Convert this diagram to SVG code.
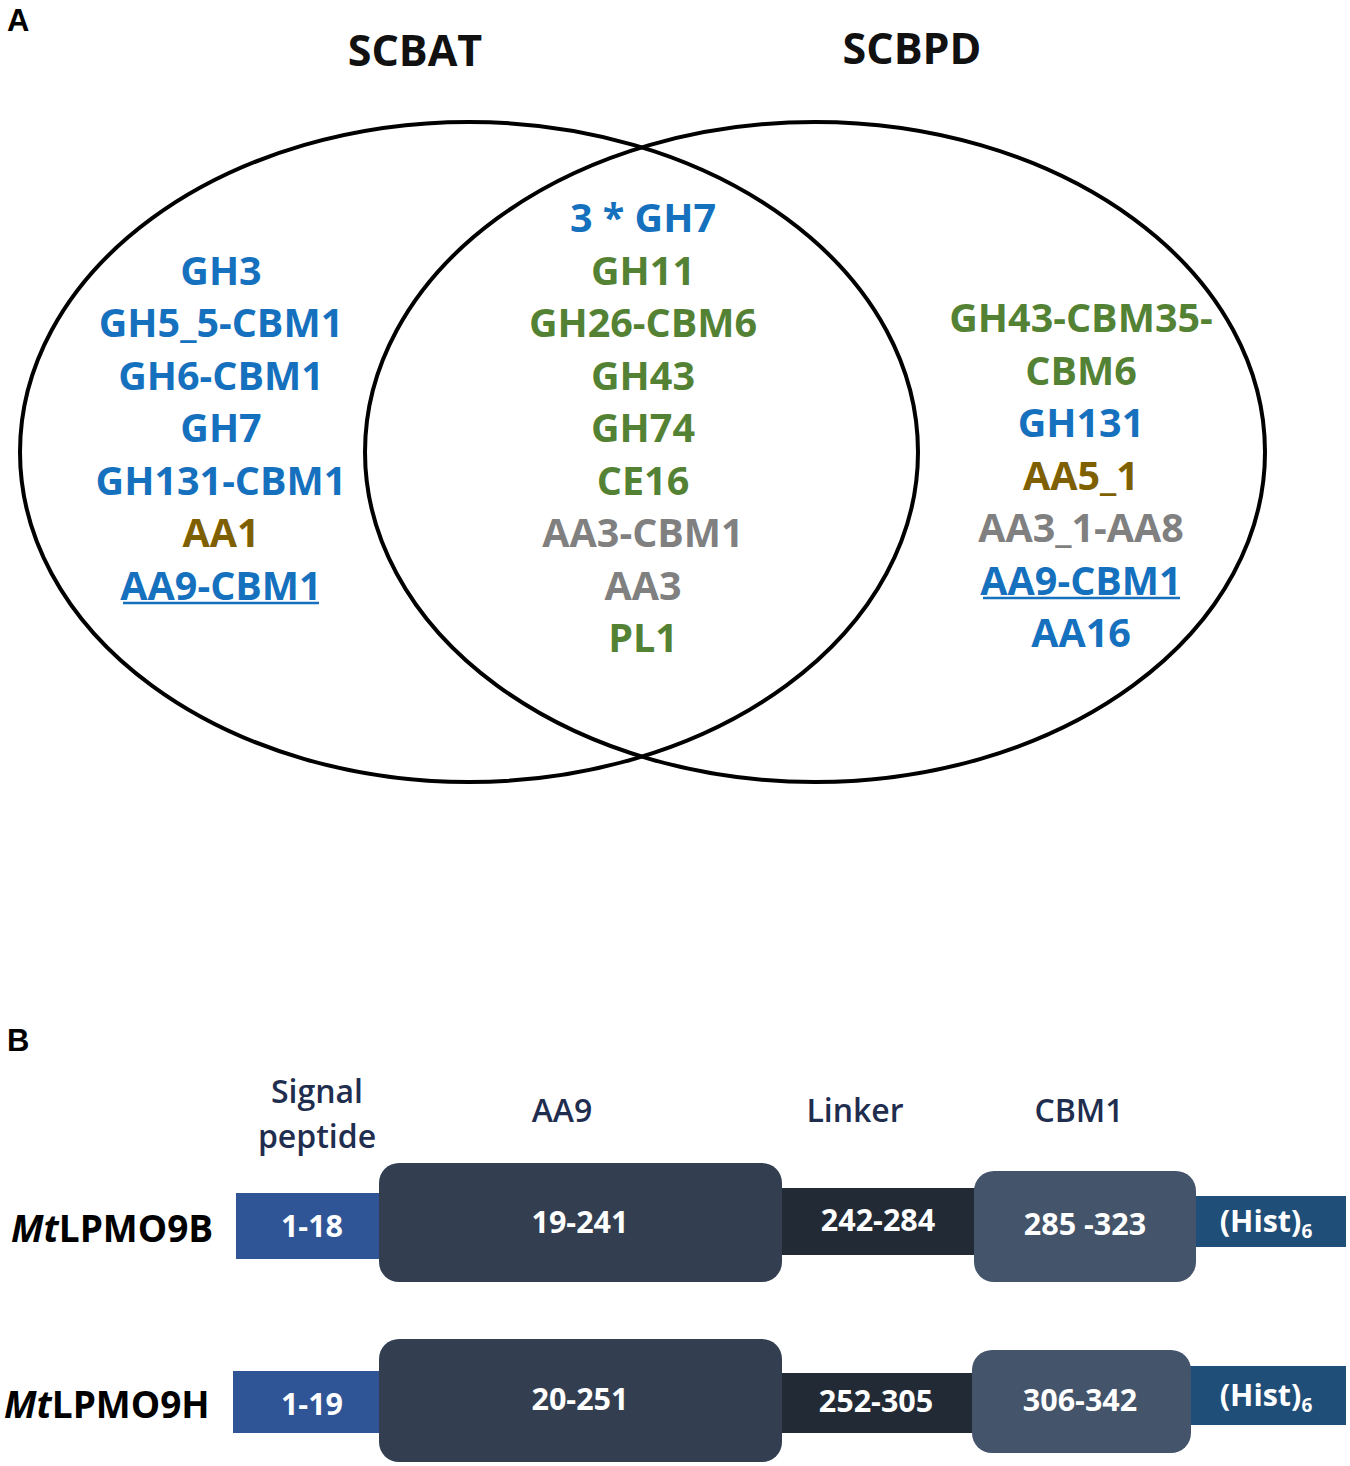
<svg xmlns="http://www.w3.org/2000/svg" width="1350" height="1466" viewBox="0 0 1350 1466">
<style>
.v{font-family:"Open Sans","DejaVu Sans",sans-serif;font-weight:bold;font-size:39.5px;text-anchor:middle}
.bl{fill:#1570BE}.gr{fill:#548235}.br{fill:#7F6000}.gy{fill:#808080}
.ttl{font-family:"Open Sans","DejaVu Sans",sans-serif;font-weight:bold;font-size:43px;fill:#111;text-anchor:middle}
.pl{font-family:"Liberation Sans",Arial,sans-serif;font-weight:bold;font-size:31px;fill:#000}
.hd{font-family:"Open Sans","DejaVu Sans",sans-serif;font-weight:600;font-size:32px;fill:#1F2D4F;text-anchor:middle}
.w{font-family:"Open Sans","DejaVu Sans",sans-serif;font-weight:bold;font-size:30.5px;fill:#fff;text-anchor:middle}
.nm{font-family:"Open Sans","DejaVu Sans",sans-serif;font-weight:bold;font-size:37px;fill:#000}
.ul{stroke:#1570BE;stroke-width:2.5}
.ell{fill:none;stroke:#000;stroke-width:4}
</style>
<text class="pl" x="7" y="31">A</text>
<text class="pl" x="7" y="1051">B</text>
<g id="venn">
<ellipse class="ell" cx="469" cy="452" rx="449" ry="330"/>
<ellipse class="ell" cx="815" cy="452" rx="450" ry="330"/>
</g>
<g id="titles">
<text class="ttl" x="415" y="66">SCBAT</text>
<text class="ttl" x="912" y="64">SCBPD</text>
</g>
<g id="scbat-only" class="v">
<text class="bl" x="221" y="285">GH3</text>
<text class="bl" x="221" y="337">GH5_5-CBM1</text>
<text class="bl" x="221" y="390">GH6-CBM1</text>
<text class="bl" x="221" y="442">GH7</text>
<text class="bl" x="221" y="495">GH131-CBM1</text>
<text class="br" x="221" y="547">AA1</text>
<text class="bl" x="221" y="600">AA9-CBM1</text>
<line class="ul" x1="123" y1="603" x2="319" y2="603"/>
</g>
<g id="shared" class="v">
<text class="bl" x="643" y="232">3 * GH7</text>
<text class="gr" x="643" y="285">GH11</text>
<text class="gr" x="643" y="337">GH26-CBM6</text>
<text class="gr" x="643" y="390">GH43</text>
<text class="gr" x="643" y="442">GH74</text>
<text class="gr" x="643" y="495">CE16</text>
<text class="gy" x="643" y="547">AA3-CBM1</text>
<text class="gy" x="643" y="600">AA3</text>
<text class="gr" x="643" y="652">PL1</text>
</g>
<g id="scbpd-only" class="v">
<text class="gr" x="1081" y="332">GH43-CBM35-</text>
<text class="gr" x="1081" y="385">CBM6</text>
<text class="bl" x="1081" y="437">GH131</text>
<text class="br" x="1081" y="490">AA5_1</text>
<text class="gy" x="1081" y="542">AA3_1-AA8</text>
<text class="bl" x="1081" y="595">AA9-CBM1</text>
<line class="ul" x1="983" y1="598" x2="1180" y2="598"/>
<text class="bl" x="1081" y="647">AA16</text>
</g>
<g id="domain-headers">
<text class="hd" x="317" y="1103">Signal</text>
<text class="hd" x="317" y="1148">peptide</text>
<text class="hd" x="562" y="1122">AA9</text>
<text class="hd" x="855" y="1122">Linker</text>
<text class="hd" x="1079" y="1122">CBM1</text>
</g>
<g id="MtLPMO9B">
<text class="nm" x="11" y="1242"><tspan font-style="italic">Mt</tspan>LPMO9B</text>
<rect x="236" y="1193" width="145" height="66" fill="#2F5597"/>
<rect x="781" y="1188" width="195" height="67" fill="#222A35"/>
<rect x="1194" y="1196" width="152" height="51" fill="#1F4E79"/>
<rect x="379" y="1163" width="403" height="119" rx="20" fill="#333F50"/>
<rect x="974" y="1171" width="222" height="111" rx="20" fill="#44546A"/>
<text class="w" x="312" y="1237">1-18</text>
<text class="w" x="580" y="1233">19-241</text>
<text class="w" x="878" y="1231">242-284</text>
<text class="w" x="1085" y="1235">285 -323</text>
<text class="w" x="1266" y="1232">(Hist)<tspan font-size="19" dy="6">6</tspan></text>
</g>
<g id="MtLPMO9H">
<text class="nm" x="4" y="1418"><tspan font-style="italic">Mt</tspan>LPMO9H</text>
<rect x="233" y="1371" width="148" height="62" fill="#2F5597"/>
<rect x="781" y="1373" width="194" height="60" fill="#222A35"/>
<rect x="1189" y="1366" width="157" height="59" fill="#1F4E79"/>
<rect x="379" y="1339" width="403" height="123" rx="20" fill="#333F50"/>
<rect x="972" y="1350" width="219" height="103" rx="20" fill="#44546A"/>
<text class="w" x="312" y="1415">1-19</text>
<text class="w" x="580" y="1410">20-251</text>
<text class="w" x="876" y="1412">252-305</text>
<text class="w" x="1080" y="1411">306-342</text>
<text class="w" x="1266" y="1406">(Hist)<tspan font-size="19" dy="6">6</tspan></text>
</g>
</svg>
